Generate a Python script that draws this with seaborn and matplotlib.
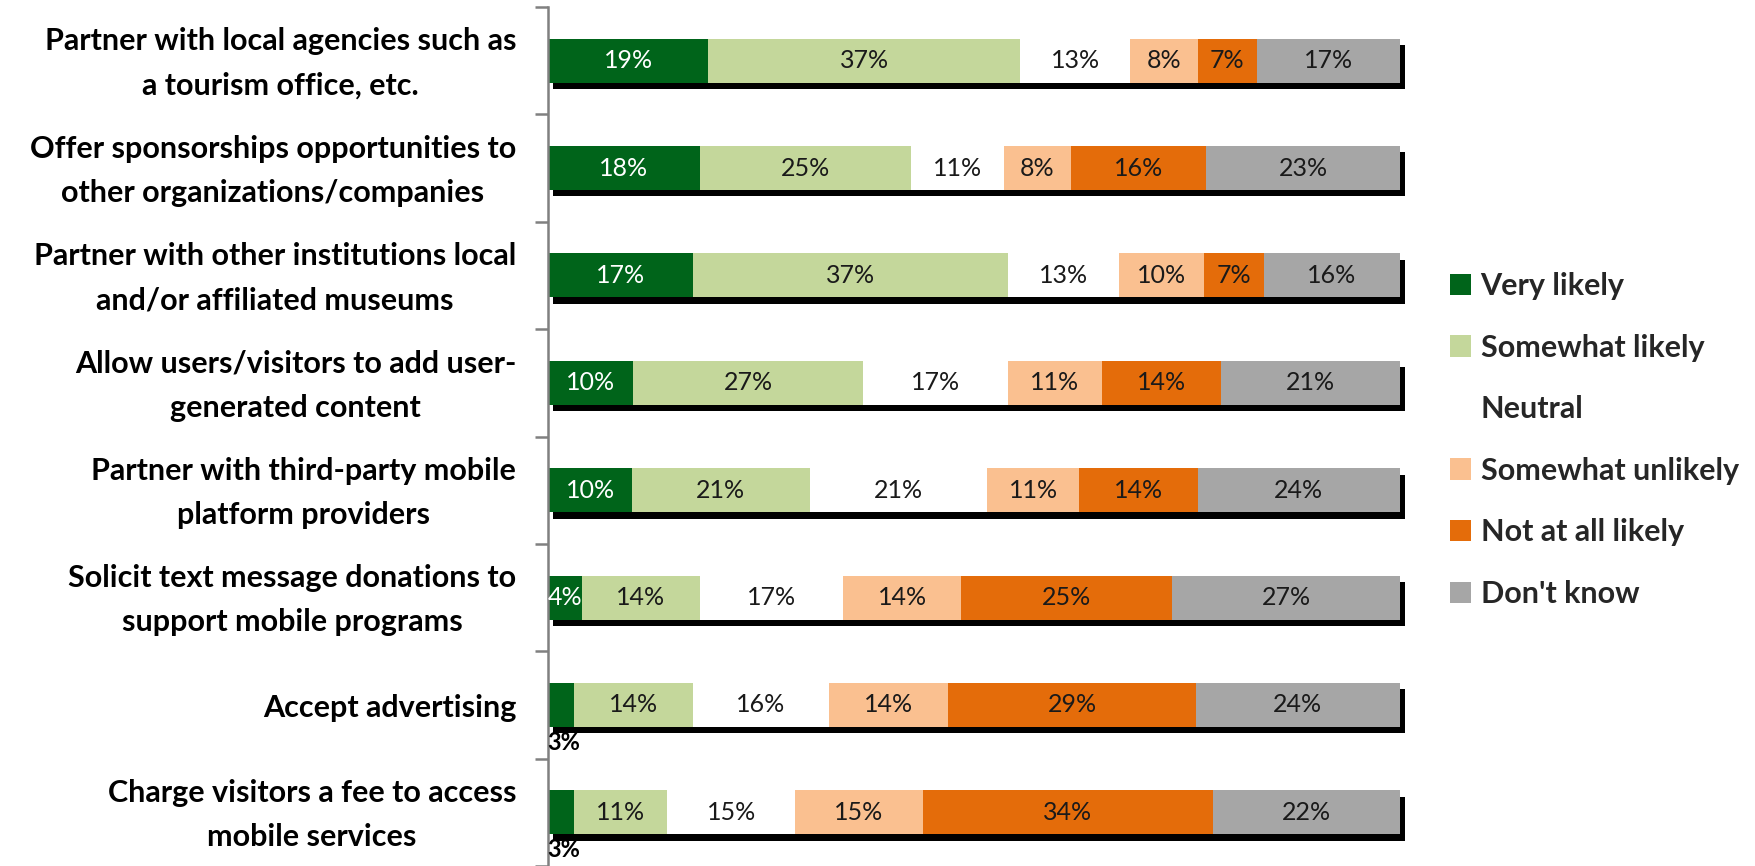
import numpy as np
import pandas as pd
import matplotlib
matplotlib.use("Agg")
import matplotlib.pyplot as plt
import matplotlib.transforms as mtransforms
import seaborn as sns
from matplotlib import patheffects as pe
from matplotlib.patches import Patch

categories = [
    "Partner with local agencies such as\na tourism office, etc.",
    "Offer sponsorships opportunities to\nother organizations/companies",
    "Partner with other institutions local\nand/or affiliated museums",
    "Allow users/visitors to add user-\ngenerated content",
    "Partner with third-party mobile\nplatform providers",
    "Solicit text message donations to\nsupport mobile programs",
    "Accept advertising",
    "Charge visitors a fee to access\nmobile services",
]
responses = ["Very likely", "Somewhat likely", "Neutral",
             "Somewhat unlikely", "Not at all likely", "Don't know"]

very_likely = [19, 18, 17, 10, 10, 4, 3, 3]
somewhat_likely = [37, 25, 37, 27, 21, 14, 14, 11]
neutral = [13, 11, 13, 17, 21, 17, 16, 15]
somewhat_unlikely = [8, 8, 10, 11, 11, 14, 14, 15]
not_at_all_likely = [7, 16, 7, 14, 14, 25, 29, 34]
dont_know = [17, 23, 16, 21, 24, 27, 24, 22]

colors = ["#00641A", "#C4D79B", "#FFFFFF", "#FAC090", "#E46C0A", "#A6A6A6"]

sns.set_theme(style="white")
plt.rcParams["font.family"] = ["Lato", "DejaVu Sans"]

vals = np.array([very_likely, somewhat_likely, neutral,
                 somewhat_unlikely, not_at_all_likely, dont_know], dtype=float).T
pct = vals / vals.sum(axis=1, keepdims=True) * 100
cum = pct.cumsum(axis=1)

rows = []
for i, c in enumerate(categories):
    for j, r in enumerate(responses):
        rows.append({"category": c, "response": r, "cum": cum[i, j]})
df = pd.DataFrame(rows)

fig = plt.figure(figsize=(17.56, 8.66), dpi=100)
ax = fig.add_axes([548 / 1756, 0.0, 852 / 1756, 1 - 7 / 866])

sns.barplot(data=df, y="category", x="cum", hue="response",
            hue_order=responses[::-1],
            palette=dict(zip(responses, colors)),
            dodge=False, orient="h", width=0.41, saturation=1,
            legend=False, ax=ax, linewidth=0)

for p in ax.patches:
    p.set_clip_on(False)
    if p.get_width() > 99.9:
        p.set_path_effects([pe.SimplePatchShadow(offset=(3.6, -4.6),
                                                 shadow_rgbFace="black",
                                                 alpha=1.0),
                            pe.Normal()])

# data labels
for i in range(len(categories)):
    for j in range(len(responses)):
        v = int(vals[i, j])
        xc = cum[i, j] - pct[i, j] / 2
        if j == 0 and pct[i, j] < 3.5:
            ax.text(xc + 0.3, i + 0.35, f"{v}%", ha="center", va="center",
                    fontsize=17, fontweight="bold", color="black", clip_on=False)
        else:
            ax.text(xc, i, f"{v}%", ha="center", va="center",
                    fontsize=18, color="white" if j == 0 else "#1a1a1a")

ax.set_xlim(0, 100)
ax.set_ylim(len(categories) - 0.5, -0.5)
ax.set_xticks([])
ax.set_xlabel("")
ax.set_ylabel("")
ax.set_yticks(np.arange(-0.5, len(categories), 1))
ax.set_yticklabels([])
ax.set_yticks(range(len(categories)), labels=categories, minor=True)
ax.tick_params(axis="y", which="major", length=9.5, width=1.8, color="#808080", left=True)
ax.tick_params(axis="y", which="minor", length=0, pad=23, labelsize=22)
shift = mtransforms.ScaledTranslation(0, -2 / 72, fig.dpi_scale_trans)
for t in ax.get_yticklabels(minor=True):
    t.set_multialignment("center")
    t.set_verticalalignment("center")
    t.set_fontweight("bold")
    t.set_color("black")
    t.set_linespacing(1.7)
    t.set_transform(t.get_transform() + shift)
for s in ["top", "right", "bottom"]:
    ax.spines[s].set_visible(False)
ax.spines["left"].set_color("#808080")
ax.spines["left"].set_linewidth(1.8)

handles = [Patch(facecolor=c, edgecolor="none") for c in colors]
fig.legend(handles, responses, loc="upper left",
           bbox_to_anchor=(1450 / 1756, 1 - 272 / 866),
           frameon=False, prop={"size": 22, "weight": "bold"},
           handlelength=0.7, handleheight=0.7, handletextpad=0.3,
           labelspacing=1.1, borderpad=0, borderaxespad=0)

fig.savefig("out.png", dpi=100)
